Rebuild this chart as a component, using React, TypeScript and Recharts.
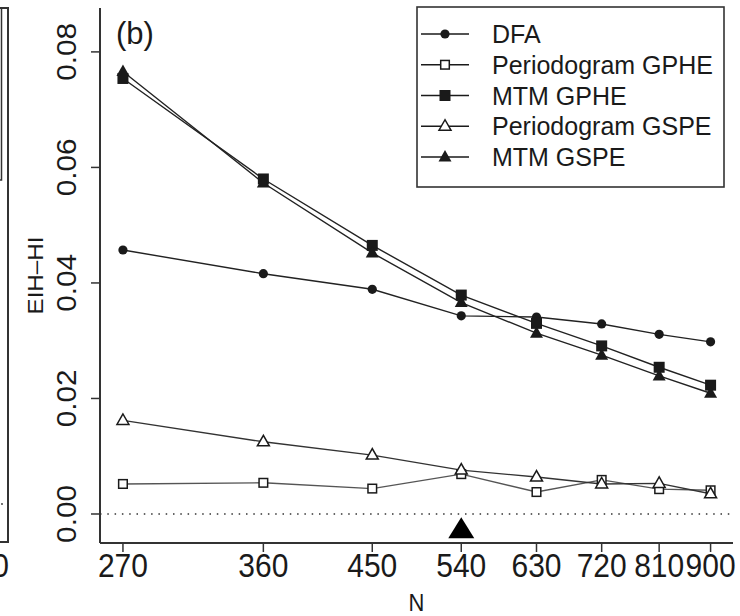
import React from "react";
import {
  ComposedChart,
  Line,
  XAxis,
  YAxis,
  ReferenceLine,
  ReferenceDot,
  Legend,
} from "recharts";

// sample sizes (x axis, log scale)
const nValues = [270, 360, 450, 540, 630, 720, 810, 900];

// E|H - H| for each estimator
const dfa = [0.0457, 0.0416, 0.0389, 0.0343, 0.0341, 0.0329, 0.0311, 0.0298];
const periodogramGphe = [0.0052, 0.0054, 0.0044, 0.0069, 0.0038, 0.0059, 0.0043, 0.0041];
const mtmGphe = [0.0754, 0.058, 0.0465, 0.0379, 0.033, 0.0291, 0.0254, 0.0223];
const periodogramGspe = [0.0162, 0.0125, 0.0102, 0.0076, 0.0064, 0.0052, 0.0053, 0.0035];
const mtmGspe = [0.0766, 0.0573, 0.0452, 0.0366, 0.0313, 0.0275, 0.0239, 0.0209];

const yTicks = [0, 0.02, 0.04, 0.06, 0.08];

// big marker under the axis at N = 540
const markerN = 540;
const markerValue = -0.0028;

const series = [
  { key: "dfa", name: "DFA", kind: "circle", values: dfa, color: "#222" },
  { key: "pgphe", name: "Periodogram GPHE", kind: "openSquare", values: periodogramGphe, color: "#555" },
  { key: "mgphe", name: "MTM GPHE", kind: "square", values: mtmGphe, color: "#222" },
  { key: "pgspe", name: "Periodogram GSPE", kind: "openTriangle", values: periodogramGspe, color: "#333" },
  { key: "mgspe", name: "MTM GSPE", kind: "triangle", values: mtmGspe, color: "#222" },
];

const rows = nValues.map((n, i) => {
  const row: any = { n };
  series.forEach((s) => (row[s.key] = s.values[i]));
  return row;
});

const FONT = "'Liberation Sans', Arial, Helvetica, sans-serif";
const INK = "#1a1a1a";

function Marker({ cx, cy, kind }: { cx: number; cy: number; kind: string }) {
  switch (kind) {
    case "circle":
      return <circle cx={cx} cy={cy} r={4.6} fill={INK} />;
    case "openSquare":
      return (
        <rect x={cx - 4.3} y={cy - 4.3} width={8.6} height={8.6} fill="#fff" stroke={INK} strokeWidth={1.5} />
      );
    case "square":
      return <rect x={cx - 5.5} y={cy - 5.5} width={11} height={11} fill={INK} />;
    case "openTriangle":
      return (
        <polygon
          points={`${cx},${cy - 6.5} ${cx - 6},${cy + 4} ${cx + 6},${cy + 4}`}
          fill="#fff"
          stroke={INK}
          strokeWidth={1.5}
        />
      );
    default:
      return (
        <polygon points={`${cx},${cy - 7} ${cx - 6.5},${cy + 4.5} ${cx + 6.5},${cy + 4.5}`} fill={INK} />
      );
  }
}

function XTick({ x, y, payload }: any) {
  return (
    <text
      transform={`translate(${x},${y + 23}) scale(1,1.1)`}
      textAnchor="middle"
      fontSize={30}
      fontFamily={FONT}
      fill={INK}
    >
      {payload.value}
    </text>
  );
}

function YTick({ x, y, payload }: any) {
  return (
    <text
      transform={`translate(${x - 13},${y}) scale(1,1.1) rotate(-90)`}
      textAnchor="middle"
      fontSize={27}
      fontFamily={FONT}
      fill={INK}
    >
      {payload.value.toFixed(2)}
    </text>
  );
}

function LegendBox() {
  return (
    <svg width={310} height={183}>
      <rect x={1} y={1} width={307} height={180} fill="#fff" stroke="#333" strokeWidth={1.6} />
      {series.map((s, i) => {
        const cy = 28 + i * 30.75;
        return (
          <g key={s.key}>
            <line x1={5} x2={53} y1={cy} y2={cy} stroke={INK} strokeWidth={1.4} />
            <Marker cx={29} cy={cy} kind={s.kind} />
            <text x={76} y={cy + 9} fontSize={25} fontFamily={FONT} fill={INK}>
              {s.name}
            </text>
          </g>
        );
      })}
    </svg>
  );
}

function BigTriangle({ cx, cy }: any) {
  return <polygon points={`${cx},${cy - 13} ${cx - 13},${cy + 8} ${cx + 13},${cy + 8}`} fill="#000" />;
}

export default function App() {
  return (
    <div style={{ position: "absolute", left: 0, top: 0, width: 740, height: 616, background: "#fff" }}>
      {/* edge of the neighbouring panel (a) */}
      <svg width={740} height={616} style={{ position: "absolute", left: 0, top: 0 }}>
        <path d="M0 8 H8 V542 H0" fill="none" stroke="#333" strokeWidth={2} />
        <path d="M0 180 H1.5 V8" fill="none" stroke="#333" strokeWidth={1.5} />
        <circle cx={2} cy={504} r={0.9} fill="#333" />
        <text
          transform="translate(9,577) scale(1,1.1)"
          textAnchor="end"
          fontSize={30}
          fontFamily={FONT}
          fill={INK}
        >
          900
        </text>
        <text x={116} y={44} fontSize={31} fontFamily={FONT} fill={INK}>
          (b)
        </text>
      </svg>
      <div style={{ position: "absolute", left: 0, top: 0 }}>
        <ComposedChart
          width={740}
          height={616}
          data={rows}
          margin={{ top: 8, right: 7, bottom: 0, left: 0 }}
        >
          <XAxis
            dataKey="n"
            type="number"
            scale="log"
            domain={[257.6, 942.3]}
            allowDataOverflow
            ticks={nValues}
            interval={0}
            height={73}
            tickSize={9}
            tick={<XTick />}
            axisLine={{ stroke: "#333", strokeWidth: 2 }}
            tickLine={{ stroke: "#333", strokeWidth: 1.5 }}
            label={({ viewBox }: any) => (
              <text
                transform={`translate(${viewBox.x + viewBox.width / 2},611) scale(1,1.1)`}
                textAnchor="middle"
                fontSize={22}
                fontFamily={FONT}
                fill={INK}
              >
                N
              </text>
            )}
          />
          <XAxis
            xAxisId="top"
            dataKey="n"
            type="number"
            scale="log"
            domain={[257.6, 942.3]}
            allowDataOverflow
            orientation="top"
            height={0}
            tick={false}
            tickLine={false}
            axisLine={{ stroke: "#333", strokeWidth: 2 }}
          />
          <YAxis
            type="number"
            domain={[-0.005022, 0.0876]}
            allowDataOverflow
            ticks={yTicks}
            interval={0}
            width={100}
            tickSize={9}
            tick={<YTick />}
            axisLine={{ stroke: "#333", strokeWidth: 2 }}
            tickLine={{ stroke: "#333", strokeWidth: 1.5 }}
            label={({ viewBox }: any) => (
              <text
                transform={`translate(43,${viewBox.y + viewBox.height / 2}) scale(1,1.1) rotate(-90)`}
                textAnchor="middle"
                fontSize={22}
                fontFamily={FONT}
                fill={INK}
              >
                EIH–HI
              </text>
            )}
          />
          <YAxis
            yAxisId="right"
            orientation="right"
            type="number"
            domain={[-0.005022, 0.0876]}
            allowDataOverflow
            width={0}
            tick={false}
            tickLine={false}
            axisLine={{ stroke: "#333", strokeWidth: 2 }}
          />
          <ReferenceLine y={0} stroke="#333" strokeWidth={1.6} strokeDasharray="1.5 5.8" />
          {series.map((s) => (
            <Line
              key={s.key}
              dataKey={s.key}
              name={s.name}
              stroke={s.color}
              strokeWidth={1.4}
              isAnimationActive={false}
              activeDot={false}
              dot={(p: any) => <Marker key={`${s.key}-${p.index}`} cx={p.cx} cy={p.cy} kind={s.kind} />}
            />
          ))}
          <ReferenceDot x={markerN} y={markerValue} shape={<BigTriangle />} />
          <Legend
            layout="horizontal"
            verticalAlign="middle"
            align="center"
            content={() => <LegendBox />}
            wrapperStyle={{ position: "absolute", left: 416, top: 6, width: 310, height: 183 }}
          />
        </ComposedChart>
      </div>
    </div>
  );
}
